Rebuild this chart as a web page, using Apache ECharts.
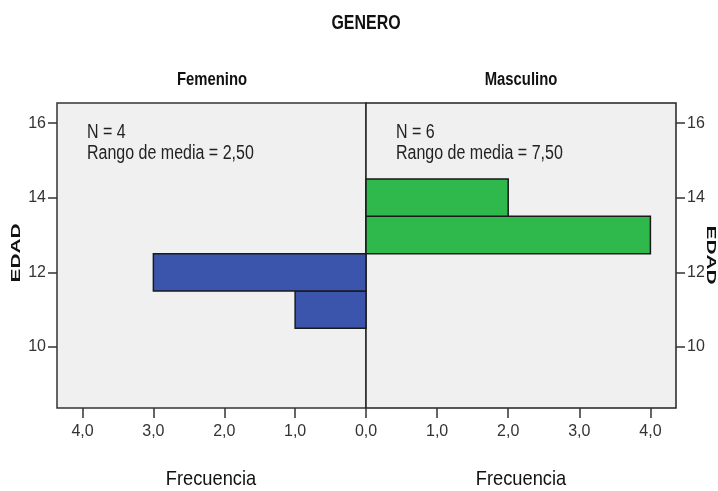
<!DOCTYPE html>
<html>
<head>
<meta charset="utf-8">
<script src="https://cdn.jsdelivr.net/npm/echarts@6/dist/echarts.min.js"></script>
<style>
    html, body { margin: 0; padding: 0; background: #ffffff; }
    #chart { width: 718px; height: 491px; }
</style>
</head>
<body>
<div id="chart"></div>
<script>
    // histograma por genero (EDAD vs frecuencia)
    var femEdad = [11, 12];
    var femFrec = [1, 3];
    var masEdad = [13, 14];
    var masFrec = [4, 2];
    var edadTicks = [10, 12, 14, 16];
    var frecTicks = [0, 1, 2, 3, 4];
    var femTexto = ['N = 4', 'Rango de media = 2,50'];
    var masTexto = ['N = 6', 'Rango de media = 7,50'];

    var fuente = '"Liberation Sans", Arial, sans-serif';

    function pares(edad, frec) {
        var out = [];
        for (var i = 0; i < edad.length; i++) {
            out.push([frec[i], edad[i]]);
        }
        return out;
    }

    function barra(color) {
        return function (params, api) {
            var f = api.value(0);
            var e = api.value(1);
            var p1 = api.coord([0, e + 0.5]);
            var p2 = api.coord([f, e - 0.5]);
            return {
                type: 'rect',
                shape: {
                    x: Math.min(p1[0], p2[0]),
                    y: p1[1],
                    width: Math.abs(p2[0] - p1[0]),
                    height: p2[1] - p1[1]
                },
                style: {fill: color, stroke: '#1a1a1a', lineWidth: 1.5}
            };
        };
    }

    function fmt(v) {
        return v.toFixed(1).replace('.', ',');
    }

    var ejeX = function (idx, inverse) {
        return {
            type: 'value',
            gridIndex: idx,
            inverse: inverse,
            min: 0,
            max: 4.36,
            splitLine: {show: false},
            axisLine: {show: false, onZero: false},
            axisTick: {show: true, length: 10, customValues: frecTicks, lineStyle: {color: '#333', width: 1.5}},
            axisLabel: {
                customValues: inverse ? frecTicks.slice(1) : frecTicks,
                color: '#333', fontFamily: fuente, fontSize: 16, margin: 16,
                formatter: fmt
            }
        };
    };

    var ejeY = function (idx, pos) {
        return {
            type: 'value',
            gridIndex: idx,
            position: pos,
            min: 8.36,
            max: 16.54,
            splitLine: {show: false},
            axisLine: {show: false, onZero: false},
            axisTick: {show: true, length: 9, customValues: edadTicks, lineStyle: {color: '#333', width: 1.5}},
            axisLabel: {customValues: edadTicks, color: '#333', fontFamily: fuente, fontSize: 16, margin: 11}
        };
    };

    function texto(t, x, y, size, peso, escala, extra) {
        var el = {
            type: 'text', x: x, y: y, scaleX: escala,
            style: {text: t, fontFamily: fuente, fontSize: size, fontWeight: peso, fill: '#111',
                textAlign: 'center', textVerticalAlign: 'middle'}
        };
        for (var k in extra) el[k] = extra[k];
        return el;
    }

    var chart = echarts.init(document.getElementById('chart'));
    var option = {
        animation: false,
        backgroundColor: '#ffffff',
        grid: [
            {left: 57, top: 103, width: 309, height: 305, show: true,
                backgroundColor: '#f0f0f0', borderColor: '#333', borderWidth: 1.5},
            {left: 366, top: 103, width: 310, height: 305, show: true,
                backgroundColor: '#f0f0f0', borderColor: '#222', borderWidth: 1.5}
        ],
        xAxis: [ejeX(0, true), ejeX(1, false)],
        yAxis: [ejeY(0, 'left'), ejeY(1, 'right')],
        graphic: [
            texto('GENERO', 366, 23, 21, 'bold', 0.76),
            texto('Femenino', 212, 80, 17.5, 'bold', 0.85),
            texto('Masculino', 521, 80, 17.5, 'bold', 0.85),
            texto('Frecuencia', 211, 479, 21, 'normal', 0.87),
            texto('Frecuencia', 521, 479, 21, 'normal', 0.87),
            texto('EDAD', 16.5, 253, 13, 'bold', 1.6, {rotation: Math.PI / 2}),
            texto('EDAD', 711, 255, 13, 'bold', 1.6, {rotation: -Math.PI / 2}),
            {type: 'text', x: 87, y: 122, scaleX: 0.8,
                style: {text: femTexto.join('\n'), fontFamily: fuente, fontSize: 20, lineHeight: 21, fill: '#222'}},
            {type: 'text', x: 396, y: 122, scaleX: 0.8,
                style: {text: masTexto.join('\n'), fontFamily: fuente, fontSize: 20, lineHeight: 21, fill: '#222'}}
        ],
        series: [
            {type: 'custom', xAxisIndex: 0, yAxisIndex: 0, renderItem: barra('#3b55ad'),
                encode: {x: 0, y: 1}, data: pares(femEdad, femFrec)},
            {type: 'custom', xAxisIndex: 1, yAxisIndex: 1, renderItem: barra('#2fb84b'),
                encode: {x: 0, y: 1}, data: pares(masEdad, masFrec)}
        ]
    };
    chart.setOption(option);
</script>
</body>
</html>
